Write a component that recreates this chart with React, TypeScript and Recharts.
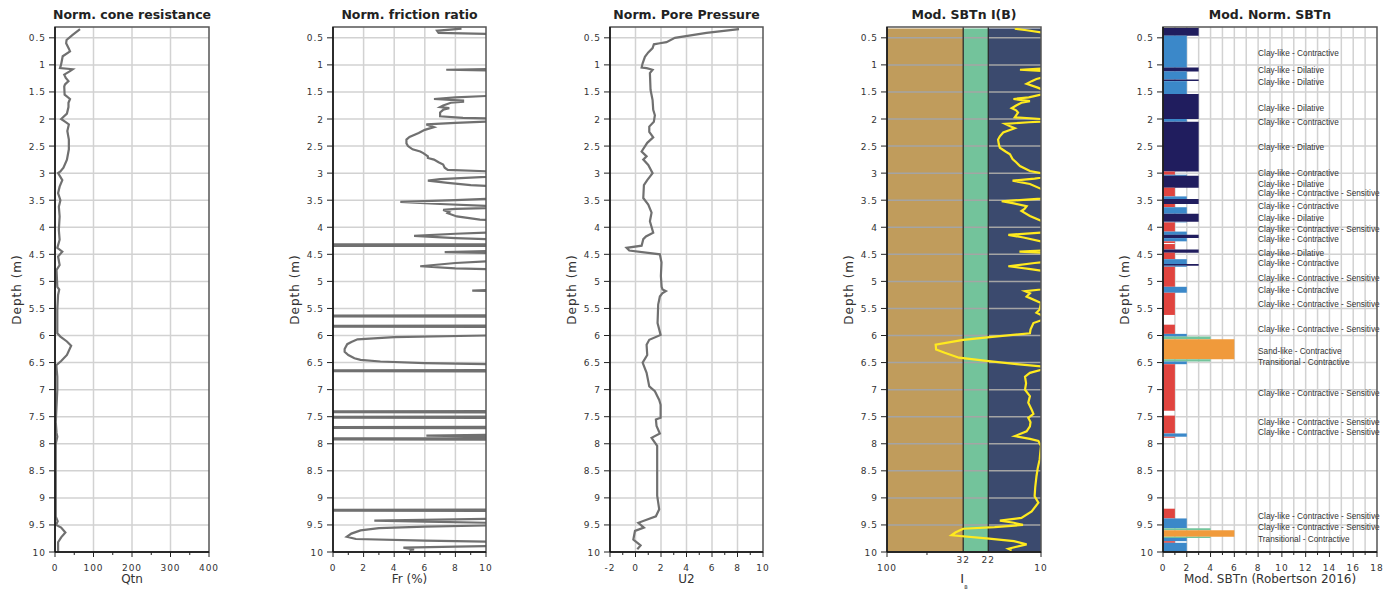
import React from "react";
import {
  LineChart,
  Line,
  ScatterChart,
  Scatter,
  XAxis,
  YAxis,
  CartesianGrid,
  ReferenceArea,
  ReferenceLine,
} from "recharts";

const FONT = "'DejaVu Sans', Verdana, sans-serif";
const LABEL_FONT = "'Liberation Sans', Arial, sans-serif";

// ---- axes / ticks ----
const depthTicks = [0.5, 1, 1.5, 2, 2.5, 3, 3.5, 4, 4.5, 5, 5.5, 6, 6.5, 7, 7.5, 8, 8.5, 9, 9.5, 10];
const DEPTH_DOMAIN: [number, number] = [0.3, 10];

const qtnTicks = [0, 50, 100, 150, 200, 250, 300, 350, 400];
const qtnLabels = [0, 100, 200, 300, 400];
const frTicks = [0, 1, 2, 3, 4, 5, 6, 7, 8, 9, 10];
const frLabels = [0, 2, 4, 6, 8, 10];
const u2Ticks = [-2, -1, 0, 1, 2, 3, 4, 5, 6, 7, 8, 9, 10];
const u2Labels = [-2, 0, 2, 4, 6, 8, 10];
const ibTicks = [100, 55, 32, 22, 10];
const ibBounds = [32, 22];
const sbtTicks = [0, 1, 2, 3, 4, 5, 6, 7, 8, 9, 10, 11, 12, 13, 14, 15, 16, 17, 18];
const sbtTickLabels = [0, 2, 4, 6, 8, 10, 12, 14, 16, 18];

// ---- profiles: [depth (m), value] ----
const qtnProfile = [
  [0.34, 65], [0.45, 45], [0.54, 30], [0.6, 29], [0.7, 36], [0.75, 39], [0.84, 20], [0.95, 17],
  [1.0, 15.6], [1.06, 13], [1.08, 46], [1.12, 38], [1.18, 24], [1.24, 28], [1.3, 35], [1.36, 26],
  [1.4, 24], [1.55, 25], [1.63, 39], [1.7, 35], [1.78, 35], [1.9, 31], [2.0, 16], [2.05, 26],
  [2.1, 36], [2.22, 32], [2.38, 36], [2.56, 36], [2.75, 31], [2.9, 22], [2.97, 14], [3.0, 8],
  [3.13, 19], [3.25, 12], [3.37, 8], [3.5, 14], [3.62, 10], [3.8, 12], [4.05, 10], [4.23, 12],
  [4.38, 6], [4.45, 19], [4.54, 8], [4.7, 12], [4.79, 4], [5.1, 6], [5.15, 11], [5.25, 8],
  [5.53, 6], [5.96, 6], [6.02, 14], [6.11, 31], [6.19, 42], [6.36, 31], [6.47, 16], [6.55, 3.5],
  [6.76, 6], [7.0, 6], [7.6, 2], [7.8, 4], [7.87, 6], [8.0, 2], [9.35, 2], [9.43, 7], [9.5, 3],
  [9.55, 16], [9.64, 27], [9.73, 16], [9.82, 8], [10.0, 8],
];

const frProfile = [
  [0.33, 8.4], [0.37, 6.8], [0.41, 6.9], [0.44, 12], [0.6, 25], [1.04, 25], [1.07, 12], [1.09, 7.4],
  [1.11, 12], [1.3, 25], [1.55, 12], [1.6, 8], [1.63, 6.6], [1.66, 8.5], [1.68, 8.5], [1.7, 7.7],
  [1.75, 7.2], [1.78, 7.0], [1.8, 7.6], [1.83, 7.2], [1.88, 7.0], [1.95, 7.0], [1.98, 8.5], [2.0, 12],
  [2.03, 12], [2.07, 8], [2.1, 6.1], [2.15, 6.6], [2.2, 6.0], [2.26, 5.6], [2.33, 5.0], [2.38, 4.8],
  [2.45, 4.8], [2.5, 4.9], [2.56, 5.2], [2.6, 5.7], [2.63, 5.9], [2.69, 6.2], [2.72, 6.2], [2.75, 6.6],
  [2.8, 6.9], [2.84, 7.2], [2.9, 7.3], [2.94, 7.5], [2.97, 10.5], [3.02, 12], [3.07, 10], [3.11, 7],
  [3.14, 6.2], [3.18, 7.5], [3.22, 9], [3.27, 12], [3.45, 12], [3.5, 8], [3.53, 4.4], [3.57, 7],
  [3.63, 12], [3.66, 8], [3.68, 7.2], [3.72, 7.6], [3.74, 7.5], [3.8, 8.1], [3.86, 9.6], [3.89, 12],
  [4.08, 12], [4.12, 8], [4.16, 5.3], [4.2, 8], [4.24, 12], [4.31, 30], [4.32, -20], [4.33, 30],
  [4.34, -20], [4.35, 30], [4.43, 12], [4.46, 7.3], [4.48, 12], [4.6, 12], [4.66, 8], [4.72, 5.7],
  [4.76, 8], [4.79, 12], [5.14, 12], [5.17, 9.1], [5.19, 12], [5.62, 30], [5.64, -20], [5.66, 30],
  [5.81, 30], [5.83, -20], [5.85, 30], [5.99, 12], [6.03, 4], [6.07, 1.6], [6.12, 1.2], [6.16, 0.93],
  [6.25, 0.76], [6.3, 0.76], [6.36, 1.0], [6.42, 1.4], [6.45, 1.8], [6.48, 3.1], [6.51, 6], [6.54, 12],
  [6.63, 30], [6.65, -20], [6.67, 30], [7.39, 30], [7.41, -20], [7.43, 30], [7.49, 30], [7.51, -20],
  [7.53, 30], [7.68, 30], [7.7, -20], [7.72, 30], [7.83, 12], [7.85, 6.1], [7.87, 12], [7.89, 30],
  [7.91, -20], [7.93, 30], [9.21, 30], [9.23, -20], [9.25, 30], [9.38, 12], [9.42, 2.7], [9.44, 6],
  [9.47, 12], [9.5, 12], [9.53, 6], [9.56, 3], [9.6, 1.8], [9.66, 1.2], [9.72, 0.9], [9.76, 1.5],
  [9.79, 6], [9.82, 12], [9.88, 12], [9.9, 8], [9.92, 4.6], [9.95, 5.3], [9.96, 5.0],
];

const u2Profile = [
  [0.34, 8.12], [0.41, 5.57], [0.5, 3.09], [0.58, 2.43], [0.6, 1.91], [0.62, 1.44], [0.69, 1.34],
  [0.77, 1.0], [0.85, 0.74], [0.97, 0.56], [1.05, 0.48], [1.06, 0.87], [1.09, 1.34], [1.15, 1.13],
  [1.46, 1.18], [1.65, 1.34], [1.83, 1.39], [1.93, 1.52], [2.05, 1.44], [2.14, 1.08], [2.24, 1.08],
  [2.34, 1.39], [2.44, 0.92], [2.6, 0.48], [2.69, 0.87], [2.75, 0.61], [2.85, 1.0], [3.0, 1.34],
  [3.13, 0.92], [3.22, 0.66], [3.46, 0.61], [3.58, 1.0], [3.73, 1.26], [3.89, 1.13], [4.1, 1.39],
  [4.17, 0.82], [4.22, 0.61], [4.34, 0.48], [4.38, -0.7], [4.43, -0.49], [4.5, 1.91], [4.65, 2.04],
  [4.9, 1.99], [5.1, 2.05], [5.15, 2.12], [5.18, 2.38], [5.22, 2.1], [5.28, 1.91], [5.43, 1.78],
  [5.77, 1.73], [5.99, 1.97], [6.08, 1.08], [6.17, 0.87], [6.36, 0.92], [6.5, 0.56], [6.69, 0.87],
  [6.94, 1.08], [7.03, 1.52], [7.19, 1.86], [7.28, 1.97], [7.52, 1.97], [7.55, 1.6], [7.67, 1.65],
  [7.81, 1.91], [7.89, 1.26], [8.04, 1.7], [8.96, 1.7], [9.21, 1.86], [9.34, 1.6], [9.46, 0.22],
  [9.55, 0.66], [9.61, -0.04], [9.77, -0.17], [9.88, 0.4], [9.95, 0.14],
];

const ibProfile = [
  [0.33, 14.8], [0.36, 12.4], [0.4, 10], [0.45, 7], [0.76, 7], [0.77, 9.8], [0.78, 7], [1.05, 7],
  [1.07, 10], [1.09, 13.7], [1.11, 10], [1.2, 8], [1.24, 10], [1.26, 10.7], [1.3, 11.5], [1.35, 12.4],
  [1.42, 10.5], [1.5, 9], [1.55, 10], [1.6, 12], [1.63, 15.1], [1.67, 11.8], [1.7, 13.4], [1.75, 14.5],
  [1.8, 15.5], [1.84, 14.5], [1.88, 14.1], [1.97, 14.8], [2.0, 10], [2.03, 8], [2.06, 12], [2.09, 17.1],
  [2.13, 16], [2.17, 14.8], [2.25, 17.6], [2.32, 18.5], [2.38, 19.0], [2.46, 18.8], [2.53, 18.5],
  [2.6, 17], [2.65, 15.9], [2.74, 15.3], [2.8, 14.5], [2.87, 13.7], [2.96, 11.8], [3.0, 10], [3.05, 8],
  [3.1, 11], [3.14, 15.3], [3.2, 11.8], [3.29, 10], [3.4, 8], [3.47, 10], [3.52, 18.0], [3.56, 15],
  [3.61, 12.4], [3.66, 12.8], [3.7, 13.4], [3.79, 11.8], [3.88, 10], [4.0, 8], [4.1, 10], [4.14, 16.3],
  [4.19, 13], [4.26, 10], [4.3, 8], [4.42, 8], [4.45, 13.8], [4.48, 8], [4.62, 8], [4.66, 11],
  [4.72, 16.3], [4.77, 12], [4.8, 10], [5.1, 8], [5.15, 10], [5.18, 12.7], [5.22, 11.8], [5.28, 12.4],
  [5.4, 10], [5.52, 10.2], [5.58, 10.7], [5.62, 10], [5.7, 9.5], [5.77, 11.2], [5.89, 11.7],
  [5.96, 11.8], [6.03, 21.5], [6.08, 32], [6.17, 48.3], [6.26, 48], [6.32, 42.2], [6.41, 34.1],
  [6.47, 22.6], [6.53, 14.4], [6.57, 10], [6.62, 9.5], [6.69, 11.8], [6.76, 12.7], [6.88, 12.5],
  [7.0, 12.7], [7.12, 11.8], [7.24, 12.1], [7.37, 11.5], [7.45, 11.2], [7.52, 12.1], [7.6, 11.7],
  [7.68, 11.8], [7.77, 12.4], [7.86, 14.8], [7.91, 11.8], [7.95, 10.4], [8.04, 10], [8.15, 10.1],
  [8.29, 10.2], [8.45, 10.5], [8.6, 10.7], [8.8, 10.9], [8.97, 11.0], [9.09, 10.4], [9.25, 11.5],
  [9.37, 13.4], [9.42, 18.5], [9.46, 15], [9.5, 13.1], [9.54, 20], [9.57, 32], [9.64, 36],
  [9.69, 38.1], [9.75, 22.6], [9.8, 15], [9.86, 12.4], [9.94, 16.3], [9.97, 15.5],
];

// ---- SBTn layers: [top, bottom, zone] ----
const sbtLayers = [
  [0.32, 0.46, 3], [0.46, 1.05, 2], [1.05, 1.12, 3], [1.12, 1.27, 2], [1.27, 1.3, 3], [1.3, 1.54, 2],
  [1.54, 2.0, 3], [2.0, 2.05, 2], [2.05, 2.97, 3], [2.97, 3.03, 1], [3.03, 3.05, 2], [3.05, 3.27, 3],
  [3.27, 3.43, 1], [3.43, 3.48, 2], [3.48, 3.57, 3], [3.57, 3.63, 1], [3.63, 3.75, 2], [3.75, 3.9, 3],
  [3.9, 3.91, 2], [3.91, 4.08, 1], [4.08, 4.14, 2], [4.14, 4.2, 3], [4.2, 4.26, 2], [4.26, 4.29, 1],
  [4.31, 4.41, 1], [4.41, 4.47, 3], [4.47, 4.59, 1], [4.59, 4.68, 2], [4.68, 4.71, 3], [4.71, 4.73, 2],
  [4.73, 5.1, 1], [5.1, 5.21, 2], [5.21, 5.62, 1], [5.8, 5.97, 1], [5.97, 6.02, 2], [6.02, 6.07, 4],
  [6.07, 6.44, 6], [6.44, 6.48, 4], [6.48, 6.53, 2], [6.53, 7.39, 1], [7.48, 7.81, 1], [7.81, 7.87, 2],
  [7.87, 7.89, 1], [9.2, 9.38, 1], [9.38, 9.56, 2], [9.56, 9.6, 4], [9.6, 9.72, 6], [9.72, 9.74, 4],
  [9.74, 9.8, 2], [9.8, 9.83, 1], [9.83, 10, 2],
];

const sbtLabels: [number, string][] = [
  [0.77, "Clay-like - Contractive"], [1.1, "Clay-like - Dilative"], [1.31, "Clay-like - Dilative"],
  [1.79, "Clay-like - Dilative"], [2.05, "Clay-like - Contractive"], [2.52, "Clay-like - Dilative"],
  [3.0, "Clay-like - Contractive"], [3.19, "Clay-like - Dilative"],
  [3.37, "Clay-like - Contractive - Sensitive"], [3.6, "Clay-like - Contractive"],
  [3.83, "Clay-like - Dilative"], [4.02, "Clay-like - Contractive - Sensitive"],
  [4.22, "Clay-like - Contractive"], [4.47, "Clay-like - Dilative"], [4.66, "Clay-like - Contractive"],
  [4.94, "Clay-like - Contractive - Sensitive"], [5.16, "Clay-like - Contractive"],
  [5.42, "Clay-like - Contractive - Sensitive"], [5.87, "Clay-like - Contractive - Sensitive"],
  [6.28, "Sand-like - Contractive"], [6.49, "Transitional - Contractive"],
  [7.05, "Clay-like - Contractive - Sensitive"], [7.59, "Clay-like - Contractive - Sensitive"],
  [7.78, "Clay-like - Contractive - Sensitive"], [9.33, "Clay-like - Contractive - Sensitive"],
  [9.54, "Clay-like - Contractive - Sensitive"], [9.75, "Transitional - Contractive"],
];

const ZONE_COLORS: Record<number, string> = {
  1: "#e0443f",
  2: "#3b88c9",
  3: "#201d5e",
  4: "#74c49c",
  6: "#f09a3b",
};

// ---- layout ----
const H = 591;
const PLOT_X = 55;
const PLOT_TOP = 27;
const PLOT_H = 525;
const LINE = "#707070";
const LABEL_X = 8;

const rows = (pairs: number[][]) => pairs.map(([depth, v]) => ({ depth, v }));

const tickText = {
  fontSize: 9,
  fontFamily: FONT,
  fill: "#333",
  letterSpacing: 1,
};

function YTick(props: any) {
  const { x, y, payload } = props;
  return (
    <g>
      <line x1={x - 6} x2={x} y1={y} y2={y} stroke="#222" strokeWidth={1} />
      <text x={x - 9} y={y + 3.5} textAnchor="end" {...tickText}>
        {payload.value}
      </text>
    </g>
  );
}

const makeXTick = (labels: number[]) => (props: any) => {
  const { x, y, payload } = props;
  const v = payload.value as number;
  const major = labels.includes(v);
  return (
    <g>
      <line x1={x} x2={x} y1={y} y2={y + (major ? 5 : 3)} stroke="#222" strokeWidth={1} />
      {major && (
        <text x={x} y={y + 19} textAnchor="middle" {...tickText}>
          {v}
        </text>
      )}
    </g>
  );
};

function IbTick(props: any) {
  const { x, y, payload } = props;
  const v = payload.value as number;
  if (ibBounds.includes(v)) {
    return (
      <text x={x} y={y + 11} textAnchor="middle" {...tickText}>
        {v}
      </text>
    );
  }
  const major = v === 100 || v === 10;
  return (
    <g>
      <line x1={x} x2={x} y1={y} y2={y + (major ? 5 : 3)} stroke="#222" strokeWidth={1} />
      {major && (
        <text x={x} y={y + 19} textAnchor="middle" {...tickText}>
          {v}
        </text>
      )}
    </g>
  );
}

const depthAxis = (reversed: boolean, clip = true) => (
  <YAxis
    type="number"
    dataKey="depth"
    domain={DEPTH_DOMAIN}
    reversed={reversed}
    allowDataOverflow={clip}
    ticks={depthTicks}
    interval={0}
    width={45}
    tickSize={0}
    tickMargin={0}
    tickLine={false}
    axisLine={false}
    tick={YTick}
  />
);

const valueAxis = (
  domain: [number, number],
  ticks: number[],
  labels: number[],
  dataKey?: string,
  clip = true
) => (
  <XAxis
    type="number"
    dataKey={dataKey}
    domain={domain}
    allowDataOverflow={clip}
    ticks={ticks}
    interval={0}
    height={39}
    tickSize={0}
    tickMargin={0}
    tickLine={false}
    axisLine={false}
    tick={makeXTick(labels)}
  />
);

function Panel({
  left,
  plotW,
  width,
  title,
  xTitle,
  children,
}: {
  left: number;
  plotW: number;
  width: number;
  title: string;
  xTitle: React.ReactNode;
  children: React.ReactNode;
}) {
  const cx = PLOT_X + plotW / 2;
  const bottom = PLOT_TOP + PLOT_H;
  return (
    <div style={{ position: "absolute", left, top: 0, width, height: H }}>
      {children}
      <svg width={width} height={H} style={{ position: "absolute", left: 0, top: 0, pointerEvents: "none" }}>
        <rect x={PLOT_X} y={PLOT_TOP} width={plotW} height={PLOT_H} fill="none" stroke="#555" strokeWidth={1.5} />
        <line x1={PLOT_X} x2={PLOT_X} y1={PLOT_TOP} y2={bottom} stroke="#111" strokeWidth={1.5} />
        <line x1={PLOT_X} x2={PLOT_X + plotW} y1={bottom} y2={bottom} stroke="#111" strokeWidth={1.5} />
        <text x={cx} y={19} textAnchor="middle" fontFamily={FONT} fontWeight="bold" fontSize={12.5} fill="#222">
          {title}
        </text>
        <text
          x={21}
          y={PLOT_TOP + PLOT_H / 2}
          transform={`rotate(-90 21 ${PLOT_TOP + PLOT_H / 2})`}
          textAnchor="middle"
          fontFamily={FONT}
          fontSize={12}
          letterSpacing={1}
          fill="#333"
        >
          Depth (m)
        </text>
        <g transform={`translate(${cx}, 583)`}>{xTitle}</g>
      </svg>
    </div>
  );
}

const XTitle = ({ text }: { text: string }) => (
  <text x={0} y={0} textAnchor="middle" fontFamily={FONT} fontSize={12} fill="#333">
    {text}
  </text>
);

const chartWidth = (plotW: number, right: number) => PLOT_X + plotW + right;
const margin = (right: number) => ({ top: PLOT_TOP, right, bottom: 0, left: 10 });

const SbtLabel = (p: any) => (
  <g transform={`translate(${p.cx}, ${p.cy}) scale(0.87, 1)`}>
    <text x={0} y={0} dominantBaseline="central" fontFamily={LABEL_FONT} fontSize={9.5} fill="#333">
      {p.payload.label}
    </text>
  </g>
);

export default function App() {
  const labelRows = sbtLabels.map(([depth, label]) => ({ depth, x: LABEL_X, label }));
  const ibTop = ibProfile[0][0];

  const p1 = { plotW: 154, right: 25 };
  const p2 = { plotW: 153, right: 25 };
  const p3 = { plotW: 153, right: 25 };
  const p4 = { plotW: 154, right: 25 };
  const p5 = { plotW: 214, right: 22 };

  return (
    <div
      style={{
        position: "absolute",
        left: 0,
        top: 0,
        width: 1399,
        height: H,
        background: "#fff",
        overflow: "hidden",
      }}
    >
      <Panel left={0} plotW={p1.plotW} width={chartWidth(p1.plotW, p1.right)} title="Norm. cone resistance" xTitle={<XTitle text="Qtn" />}>
        <LineChart layout="vertical" width={chartWidth(p1.plotW, p1.right)} height={H} margin={margin(p1.right)}>
          <CartesianGrid stroke="#d2d2d2" strokeWidth={1.5} horizontalValues={depthTicks} verticalValues={[100, 200, 300]} />
          {valueAxis([0, 400], qtnTicks, qtnLabels)}
          {depthAxis(false)}
          <Line data={rows(qtnProfile)} dataKey="v" stroke={LINE} strokeWidth={2.2} dot={false} isAnimationActive={false} />
        </LineChart>
      </Panel>

      <Panel left={278} plotW={p2.plotW} width={chartWidth(p2.plotW, p2.right)} title="Norm. friction ratio" xTitle={<XTitle text="Fr (%)" />}>
        <LineChart layout="vertical" width={chartWidth(p2.plotW, p2.right)} height={H} margin={margin(p2.right)}>
          <CartesianGrid stroke="#d2d2d2" strokeWidth={1.5} horizontalValues={depthTicks} verticalValues={[2, 4, 6, 8]} />
          {valueAxis([0, 10], frTicks, frLabels)}
          {depthAxis(false)}
          <Line data={rows(frProfile)} dataKey="v" stroke={LINE} strokeWidth={2.2} dot={false} isAnimationActive={false} />
        </LineChart>
      </Panel>

      <Panel left={555} plotW={p3.plotW} width={chartWidth(p3.plotW, p3.right)} title="Norm. Pore Pressure" xTitle={<XTitle text="U2" />}>
        <LineChart layout="vertical" width={chartWidth(p3.plotW, p3.right)} height={H} margin={margin(p3.right)}>
          <CartesianGrid stroke="#d2d2d2" strokeWidth={1.5} horizontalValues={depthTicks} verticalValues={[0, 2, 4, 6, 8]} />
          {valueAxis([-2, 10], u2Ticks, u2Labels)}
          {depthAxis(false)}
          <Line data={rows(u2Profile)} dataKey="v" stroke={LINE} strokeWidth={2.2} dot={false} isAnimationActive={false} />
        </LineChart>
      </Panel>

      <Panel
        left={832}
        plotW={p4.plotW}
        width={chartWidth(p4.plotW, p4.right)}
        title="Mod. SBTn I(B)"
        xTitle={
          <text x={0} y={0} textAnchor="middle" fontFamily={FONT} fontSize={13} fill="#333">
            I
            <tspan fontSize={5} dy={6}>
              B
            </tspan>
          </text>
        }
      >
        <LineChart layout="vertical" width={chartWidth(p4.plotW, p4.right)} height={H} margin={margin(p4.right)}>
          <XAxis
            type="number"
            scale="log"
            domain={[10, 100]}
            reversed
            allowDataOverflow
            ticks={ibTicks}
            interval={0}
            height={39}
            tickSize={0}
            tickMargin={0}
            tickLine={false}
            axisLine={false}
            tick={IbTick}
          />
          {depthAxis(false)}
          <ReferenceArea x1={100} x2={32} y1={ibTop} y2={10} fill="#c09c5c" fillOpacity={1} stroke="none" />
          <ReferenceArea x1={32} x2={22} y1={ibTop} y2={10} fill="#73c39b" fillOpacity={1} stroke="none" />
          <ReferenceArea x1={22} x2={10} y1={ibTop} y2={10} fill="#3b4a6e" fillOpacity={1} stroke="none" />
          {depthTicks.map((t) => (
            <ReferenceLine key={t} y={t} stroke="#a4a4a4" strokeWidth={1.5} />
          ))}
          {ibBounds.map((b) => (
            <ReferenceLine key={b} x={b} stroke="#222" strokeWidth={1.2} />
          ))}
          <Line data={rows(ibProfile)} dataKey="v" stroke="#ffea1f" strokeWidth={2.2} dot={false} isAnimationActive={false} />
        </LineChart>
      </Panel>

      <Panel left={1108} plotW={p5.plotW} width={chartWidth(p5.plotW, p5.right)} title="Mod. Norm. SBTn" xTitle={<XTitle text="Mod. SBTn (Robertson 2016)" />}>
        <ScatterChart width={chartWidth(p5.plotW, p5.right)} height={H} margin={margin(p5.right)}>
          <CartesianGrid
            stroke="#d2d2d2"
            strokeWidth={1.5}
            horizontalValues={depthTicks}
            verticalValues={[1, 2, 3, 4, 5, 6, 7, 8, 9, 10, 11, 12, 13, 14, 15, 16, 17]}
          />
          {valueAxis([0, 18], sbtTicks, sbtTickLabels, "x", false)}
          {depthAxis(true, false)}
          {sbtLayers.map(([top, bottom, zone], i) => (
            <ReferenceArea
              key={i}
              x1={0}
              x2={zone}
              y1={top}
              y2={bottom}
              fill={ZONE_COLORS[zone]}
              fillOpacity={1}
              stroke="none"
            />
          ))}
          <Scatter data={labelRows} isAnimationActive={false} shape={SbtLabel} />
        </ScatterChart>
      </Panel>
    </div>
  );
}
